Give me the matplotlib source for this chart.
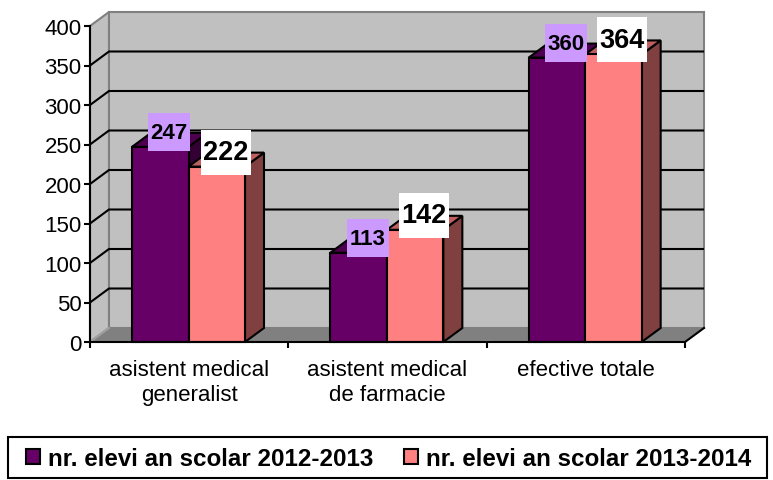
import matplotlib
matplotlib.use('Agg')
import matplotlib.pyplot as plt
from matplotlib.patches import Polygon, Patch, Rectangle
from matplotlib.path import Path

plt.rcParams['font.family'] = ['Liberation Sans', 'DejaVu Sans']

categories = ['asistent medical\ngeneralist', 'asistent medical\nde farmacie', 'efective totale']
elevi_2012 = [247, 113, 360]
elevi_2013 = [222, 142, 364]
series_names = ['nr. elevi an scolar 2012-2013', 'nr. elevi an scolar 2013-2014']
yticks = [0, 50, 100, 150, 200, 250, 300, 350, 400]

W, H = 773, 481
fig = plt.figure(figsize=(W / 100, H / 100), dpi=100)
ax = fig.add_axes([90 / W, (H - 343) / H, 595 / W, 316 / H])
ax.set_xlim(0, 3)
ax.set_ylim(0, 400)

# depth of the fake 3d box, in data units
dx = 19.0 / (595 / 3)
dy = 14.0 / (316 / 400)
lw = 1.5


def poly(pts, fc, ec='black', z=2, width=lw):
    ax.add_patch(Polygon(pts, closed=True, facecolor=fc, edgecolor=ec, linewidth=width,
                         zorder=z, clip_on=False, joinstyle='miter'))


def bar3d(x, w, h, front, top, side, z):
    poly([(x + w, 0), (x + w + dx, dy), (x + w + dx, h + dy), (x + w, h)], side, z=z)
    poly([(x, h), (x + dx, h + dy), (x + w + dx, h + dy), (x + w, h)], top, z=z)
    poly([(x, 0), (x + w, 0), (x + w, h), (x, h)], front, z=z)


def fixed_box(w, h):
    # label boxes have a fixed pixel size, not a uniform pad
    def box(x0, y0, width, height, mutation_size):
        cx, cy = x0 + width / 2, y0 + height / 2
        return Path([(cx - w / 2, cy - h / 2), (cx + w / 2, cy - h / 2), (cx + w / 2, cy + h / 2),
                     (cx - w / 2, cy + h / 2), (cx - w / 2, cy - h / 2)], closed=True)
    return box


# walls and floor
poly([(0, 0), (dx, dy), (dx, 400 + dy), (0, 400)], '#C0C0C0', ec='#808080', z=0.5)
poly([(dx, dy), (3 + dx, dy), (3 + dx, 400 + dy), (dx, 400 + dy)], '#C0C0C0', ec='#808080', z=0.6)
poly([(0, 0), (3, 0), (3 + dx, dy), (dx, dy)], '#808080', ec='none', z=0.7)
ax.plot([3, 3 + dx], [0, dy], color='black', lw=lw, zorder=0.8, clip_on=False)
ax.plot([0, dx], [0, dy], color='#A0A0A0', lw=lw, zorder=0.8, clip_on=False)

# gridlines on both walls
for v in yticks[1:-1]:
    ax.plot([0, dx, 3 + dx], [v, v + dy, v + dy], color='black', lw=lw, zorder=1,
            clip_on=False, solid_joinstyle='miter', solid_capstyle='butt')

offset = 42 / (595 / 3)
bw = 56.5 / (595 / 3)
for i in range(3):
    bar3d(i + offset, bw, elevi_2012[i], '#660066', '#4D004D', '#330033', 2 + i)
    bar3d(i + offset + bw, bw, elevi_2013[i], '#FF8080', '#BF6060', '#804040', 2.5 + i)

# value labels sit over the top face of each bar
for i in range(3):
    ax.annotate(str(elevi_2012[i]), (i + offset + bw / 2, elevi_2012[i]), xytext=(6.5, 10.5),
                textcoords='offset points', ha='center', va='center', fontsize=16,
                fontweight='bold', zorder=10, annotation_clip=False,
                bbox=dict(boxstyle=fixed_box(42, 38), fc='#CC99FF', ec='none'))
    ax.annotate(str(elevi_2013[i]), (i + offset + 1.5 * bw, elevi_2013[i]), xytext=(6.5, 10.5),
                textcoords='offset points', ha='center', va='center', fontsize=19.5,
                fontweight='bold', zorder=11, annotation_clip=False,
                bbox=dict(boxstyle=fixed_box(50, 45), fc='white', ec='none'))

for s in ['top', 'right']:
    ax.spines[s].set_visible(False)
for s in ['left', 'bottom']:
    ax.spines[s].set_linewidth(lw)
    ax.spines[s].set_zorder(9)
ax.patch.set_visible(False)

ax.set_yticks(yticks)
ax.set_xticks(range(4))
ax.set_xticklabels([''] * 4)
ax.tick_params(axis='y', length=4, width=lw, labelsize=16, pad=2)
ax.tick_params(axis='x', length=4.5, width=lw)
for i in range(3):
    ax.annotate(categories[i], (i + 0.5, 0), xytext=(0, -12), textcoords='offset points',
                ha='center', va='top', fontsize=16, linespacing=1.3, annotation_clip=False)

fig.add_artist(Rectangle((8 / W, (H - 479) / H), 759 / W, 41 / H, transform=fig.transFigure,
                         facecolor='white', edgecolor='black', linewidth=lw))
handles = [Patch(facecolor='#660066', edgecolor='black', linewidth=lw),
           Patch(facecolor='#FF8080', edgecolor='black', linewidth=lw)]
leg = fig.legend(handles, series_names, ncol=2, loc='center', bbox_to_anchor=(389 / W, (H - 460) / H),
                 frameon=False, prop={'size': 17.35, 'weight': 'bold'}, handlelength=0.58,
                 handleheight=0.58, handletextpad=0.33, columnspacing=1.28, borderpad=0,
                 borderaxespad=0)

fig.savefig('out.png', dpi=100)
